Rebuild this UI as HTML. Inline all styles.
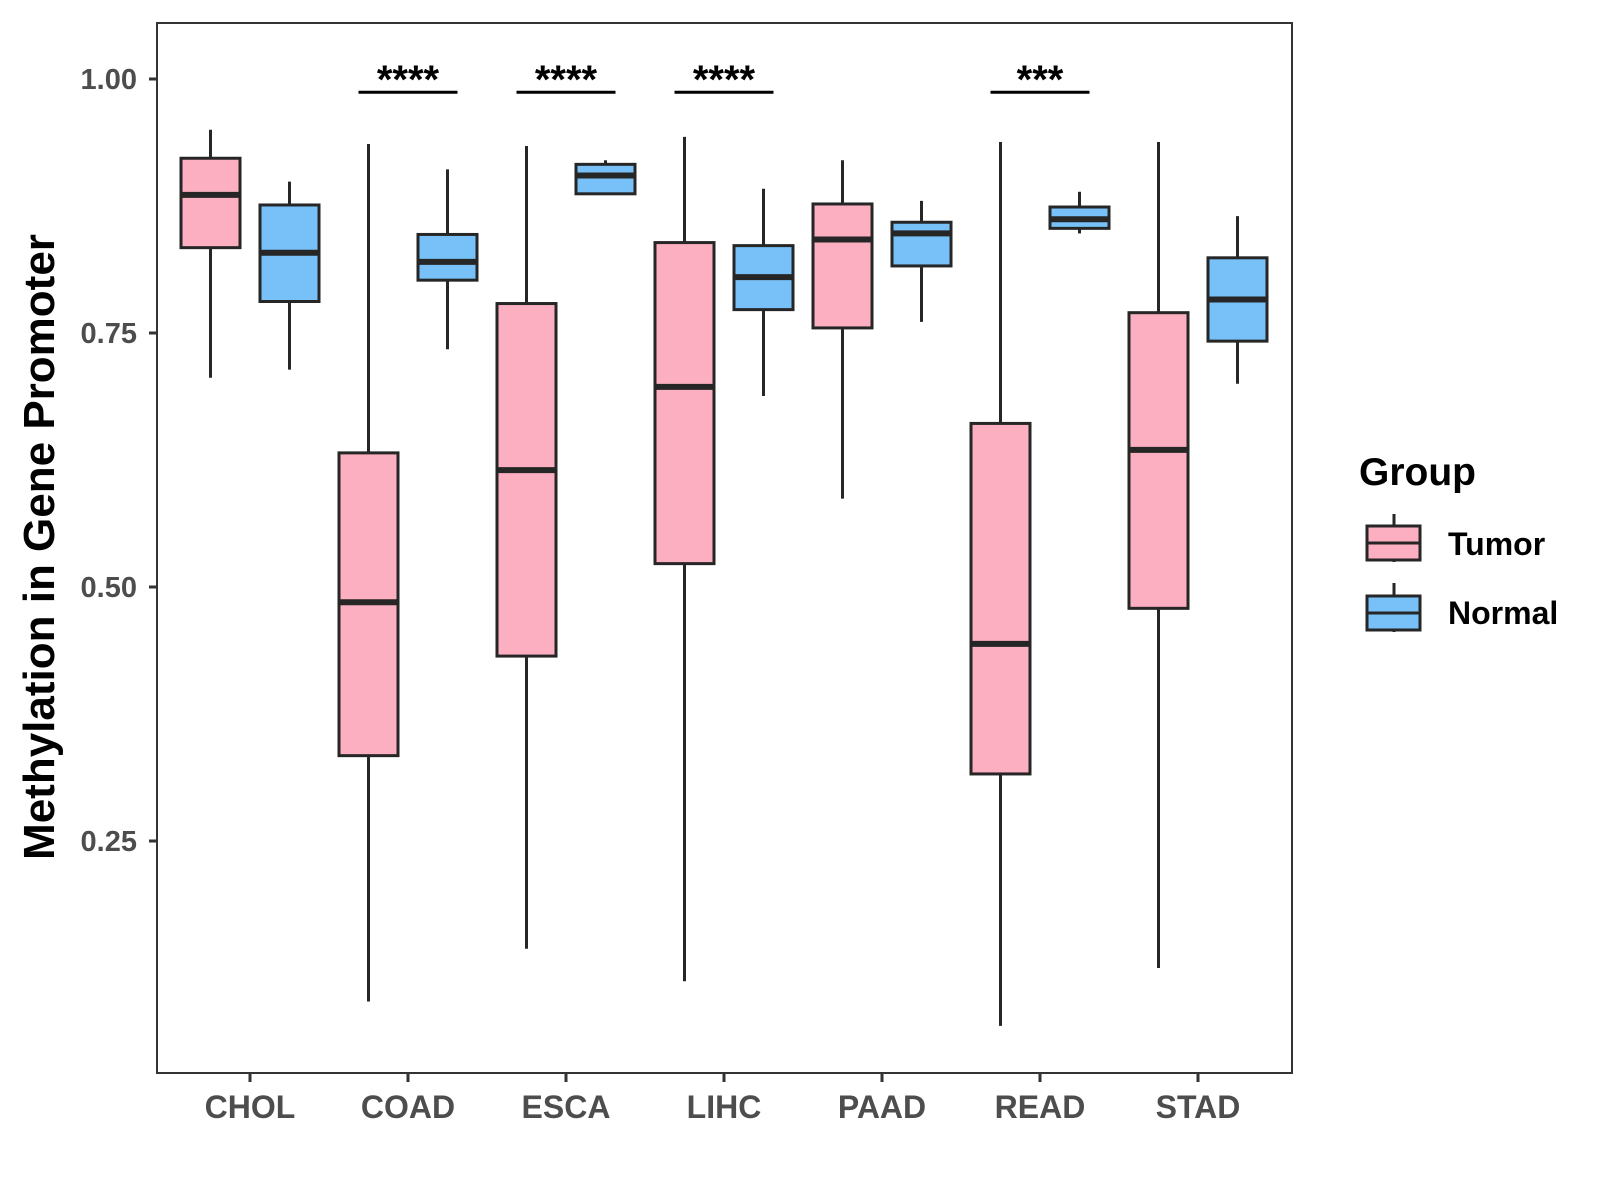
<!DOCTYPE html>
<html><head><meta charset="utf-8"><style>
html,body{margin:0;padding:0;background:#fff;}
svg{display:block;font-family:"Liberation Sans",Arial,sans-serif;}
</style></head><body>
<svg id="chart" width="1600" height="1200" viewBox="0 0 1600 1200">
<rect x="0" y="0" width="1600" height="1200" fill="#fff"/>
<g id="plot"></g>
<text transform="translate(54,547) rotate(-90)" text-anchor="middle" font-size="44" font-weight="bold" fill="#000">Methylation in Gene Promoter</text>
<g>
<text x="1359" y="485" font-size="39" font-weight="bold" fill="#000">Group</text>
<g>
<line x1="1394" y1="514" x2="1394" y2="562" stroke="#262626" stroke-width="3"/>
<rect x="1367" y="526" width="53" height="34" fill="#fcafc1" stroke="#262626" stroke-width="3"/>
<line x1="1367" y1="543" x2="1420" y2="543" stroke="#262626" stroke-width="3"/>
<text x="1448" y="555" font-size="32" font-weight="bold" fill="#000">Tumor</text>
</g>
<g>
<line x1="1394" y1="583" x2="1394" y2="632" stroke="#262626" stroke-width="3"/>
<rect x="1367" y="596" width="53" height="34" fill="#77c1f8" stroke="#262626" stroke-width="3"/>
<line x1="1367" y1="613" x2="1420" y2="613" stroke="#262626" stroke-width="3"/>
<text x="1448" y="624" font-size="32" font-weight="bold" fill="#000">Normal</text>
</g>
</g>
</svg>
<script>
const categories = ["CHOL","COAD","ESCA","LIHC","PAAD","READ","STAD"];
// [lowWhisker, q1, median, q3, highWhisker]
const tumorStats = [
 [0.706,0.834,0.886,0.922,0.950],
 [0.092,0.334,0.485,0.632,0.936],
 [0.144,0.432,0.615,0.779,0.934],
 [0.112,0.523,0.697,0.839,0.943],
 [0.587,0.755,0.842,0.877,0.920],
 [0.068,0.316,0.444,0.661,0.938],
 [0.125,0.479,0.635,0.770,0.938]
];
const normalStats = [
 [0.714,0.781,0.829,0.876,0.899],
 [0.734,0.802,0.820,0.847,0.911],
 [0.887,0.887,0.905,0.916,0.920],
 [0.688,0.773,0.805,0.836,0.892],
 [0.761,0.816,0.848,0.859,0.880],
 [0.848,0.853,0.862,0.874,0.889],
 [0.700,0.742,0.783,0.824,0.865]
];
const sigCategories = ["COAD","ESCA","LIHC","READ"];
const sigLabels = ["****","****","****","***"];
const sigLevel = 0.987;
const yTicks = [0.25,0.50,0.75,1.00];
const yTickLabels = ["0.25","0.50","0.75","1.00"];

const NS="http://www.w3.org/2000/svg";
const P={l:157,r:1292,t:23,b:1073};
const y=v=>79+(1-v)*1016;
const x=i=>250+i*158;
const g=document.getElementById('plot');
function mk(t,a,p){const e=document.createElementNS(NS,t);for(const k in a)e.setAttribute(k,a[k]);(p||g).appendChild(e);return e;}

const frame=mk('rect',{x:P.l,y:P.t,width:P.r-P.l,height:P.b-P.t,fill:'none',stroke:'#333',"stroke-width":2});



yTicks.forEach((v,i)=>{
 const l=mk('line',{x1:P.l-8,x2:P.l,y1:y(v),y2:y(v),stroke:'#333',"stroke-width":3});
 
 
 const t=mk('text',{x:P.l-20,y:y(v)+10,"text-anchor":"end","font-size":29,"font-weight":"bold",fill:'#4d4d4d'});
 t.textContent=yTickLabels[i];
 
 
});
categories.forEach((c,i)=>{
 const l=mk('line',{x1:x(i),x2:x(i),y1:P.b,y2:P.b+9,stroke:'#333',"stroke-width":3});
 
 
 const t=mk('text',{x:x(i),y:P.b+45,"text-anchor":"middle","font-size":32,"font-weight":"bold",fill:'#4d4d4d'});
 t.textContent=c;
 
 
});
function box(cx,s,fill,name){
 const grp=mk('g',{});
 
 
 mk('line',{x1:cx,x2:cx,y1:y(s[0]),y2:y(s[4]),stroke:'#262626',"stroke-width":3},grp);
 mk('rect',{x:cx-29.5,y:y(s[3]),width:59,height:y(s[1])-y(s[3]),fill:fill,stroke:'#262626',"stroke-width":3},grp);
 mk('line',{x1:cx-29.5,x2:cx+29.5,y1:y(s[2]),y2:y(s[2]),stroke:'#262626',"stroke-width":6},grp);
}
categories.forEach((c,i)=>{
 box(x(i)-39.5,tumorStats[i],'#fcafc1','box-tumor-'+c.toLowerCase());
 box(x(i)+39.5,normalStats[i],'#77c1f8','box-normal-'+c.toLowerCase());
});
sigCategories.forEach((c,j)=>{
 const i=categories.indexOf(c);
 const l=mk('line',{x1:x(i)-49.5,x2:x(i)+49.5,y1:y(sigLevel),y2:y(sigLevel),stroke:'#000',"stroke-width":3});
 
 
 const t=mk('text',{x:x(i),y:y(sigLevel)+1,"text-anchor":"middle","font-size":40,"font-weight":"bold",fill:'#000'});
 t.textContent=sigLabels[j];
 
 
});
</script>
</body></html>
